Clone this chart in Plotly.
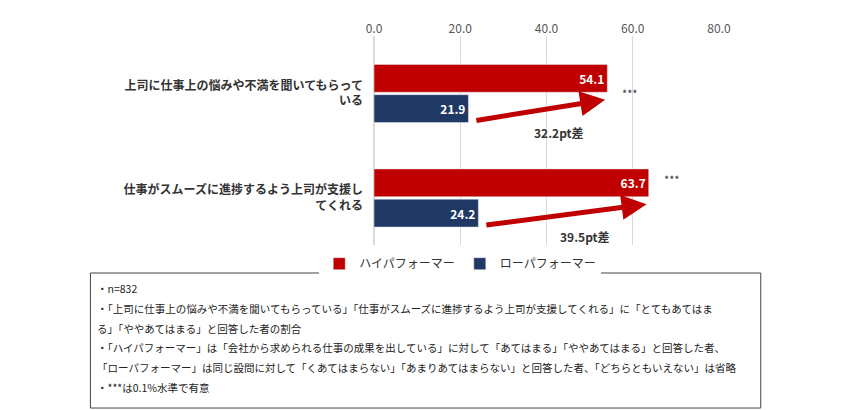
import plotly.graph_objects as go

categories = ["上司に仕事上の悩みや不満を聞いてもらって<br>いる", "仕事がスムーズに進捗するよう上司が支援し<br>てくれる"]
high = [54.1, 63.7]
low = [21.9, 24.2]
diffs = ["32.2pt差", "39.5pt差"]
notes = [
    "・n=832",
    "・「上司に仕事上の悩みや不満を聞いてもらっている」「仕事がスムーズに進捗するよう上司が支援してくれる」に「とてもあてはま",
    "る」「ややあてはまる」と回答した者の割合",
    "・「ハイパフォーマー」は「会社から求められる仕事の成果を出している」に対して「あてはまる」「ややあてはまる」と回答した者、",
    "「ローパフォーマー」は同じ設問に対して「くあてはまらない」「あまりあてはまらない」と回答した者、「どちらともいえない」は省略",
    "・***は0.1%水準で有意",
]

RED = "#c00000"
NAVY = "#1f3864"
pos = [0, 1]

fig = go.Figure()
fig.add_trace(go.Bar(y=pos, x=high, orientation="h", name="ハイパフォーマー", marker_color=RED,
                     text=[f"<b>{v:.1f}</b>" for v in high], textposition="inside", insidetextanchor="end",
                     textfont=dict(color="white", size=12, family="Noto Sans CJK JP")))
fig.add_trace(go.Bar(y=pos, x=low, orientation="h", name="ローパフォーマー", marker_color=NAVY,
                     text=[f"<b>{v:.1f}</b>" for v in low], textposition="inside", insidetextanchor="end",
                     textfont=dict(color="white", size=12, family="Noto Sans CJK JP")))

for i in range(2):
    fig.add_annotation(x=high[i] - 0.5, y=i + 0.06, ax=low[i] + 1.5, ay=i + 0.26,
                       xref="x", yref="y", axref="x", ayref="y", text="", showarrow=True,
                       arrowhead=2, arrowsize=1, arrowwidth=5, arrowcolor=RED)
    fig.add_annotation(x=(low[i] + high[i]) / 2 + 5, y=i + 0.27, text=f"<b>{diffs[i]}</b>",
                       showarrow=False, xref="x", yref="y", yanchor="top",
                       font=dict(size=12, color="#333"))
    fig.add_annotation(x=high[i] + 3, y=i - (0.0 if i == 0 else 0.18), text="***", showarrow=False,
                       xanchor="left", font=dict(size=11, color="#333"))

fig.add_shape(type="rect", xref="paper", yref="paper", x0=-0.822, x1=1.121, y0=-0.134, y1=-0.78,
              line=dict(color="#444", width=1), fillcolor="white")
for k, line in enumerate(notes):
    fig.add_annotation(xref="paper", yref="paper", x=-0.81, y=-0.165 - k * 0.094,
                       xanchor="left", yanchor="top", align="left", showarrow=False, text=line,
                       font=dict(size=10.5, color="#222"))

fig.update_layout(
    width=846, height=410, paper_bgcolor="white", plot_bgcolor="white",
    margin=dict(l=366, r=135, t=28, b=173),
    barmode="group", bargap=0.42, bargroupgap=0.08,
    font=dict(family="Noto Sans CJK JP", color="#333"),
    xaxis=dict(range=[0, 80], dtick=20, side="top", tickformat=".1f", showgrid=True,
               gridcolor="#d9d9d9", zeroline=True, zerolinecolor="#d9d9d9",
               tickfont=dict(size=12, color="#555"), ticks=""),
    yaxis=dict(range=[1.45, -0.55], tickvals=pos, ticktext=[f"<b>{c}</b>" for c in categories],
               tickfont=dict(size=12, color="#333"), showgrid=False, zeroline=False, ticks="",
               ticklabelstandoff=10),
    legend=dict(orientation="h", x=0.25, y=-0.02, xanchor="center", yanchor="top",
                font=dict(size=12), traceorder="normal", itemwidth=30),
    showlegend=True,
)

fig.write_html("out.html")
